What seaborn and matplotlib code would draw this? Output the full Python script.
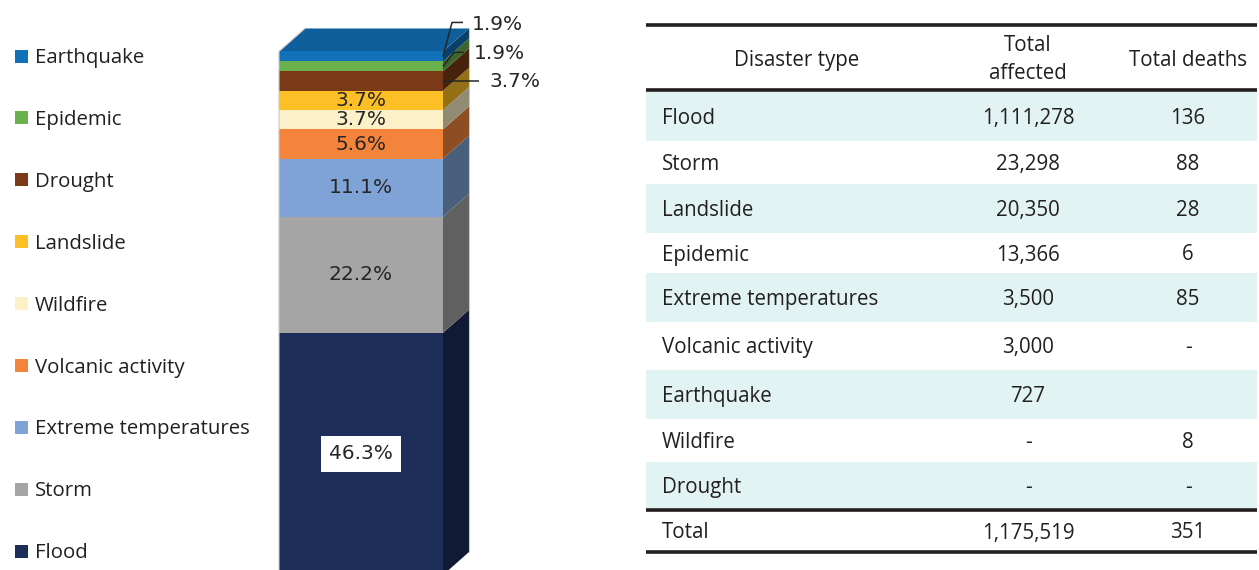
import numpy as np
import pandas as pd
import matplotlib
matplotlib.use("Agg")
import matplotlib.pyplot as plt
import matplotlib.colors as mcolors
from matplotlib.patches import Polygon, Rectangle
import seaborn as sns

sns.set_theme(style="white")
plt.rcParams["font.family"] = ["Open Sans", "DejaVu Sans"]

# Share of disaster events by type, stacked bottom to top
bar_types = ["Flood", "Storm", "Extreme temperatures", "Volcanic activity",
             "Wildfire", "Landslide", "Drought", "Epidemic", "Earthquake"]
bar_share = [46.3, 22.2, 11.1, 5.6, 3.7, 3.7, 3.7, 1.9, 1.9]
bar_colors = ["#1c2d5a", "#a5a5a5", "#7fa3d6", "#f4843c", "#fcf0c8",
              "#fdbf26", "#7b3a17", "#6ab04c", "#1070b8"]

# Impact table
table_headers = ["Disaster type", "Total\naffected", "Total deaths"]
table_types = ["Flood", "Storm", "Landslide", "Epidemic", "Extreme temperatures",
               "Volcanic activity", "Earthquake", "Wildfire", "Drought"]
total_affected = [1111278, 23298, 20350, 13366, 3500, 3000, 727, None, None]
total_deaths = [136, 88, 28, 6, 85, None, "", 8, None]   # None -> "-", "" -> blank

TEXT = "#231f20"
W, H = 1259, 570
fig = plt.figure(figsize=(W / 100, H / 100), dpi=100)

# full-figure canvas in pixel units (y downwards) for the legend and table
cv = fig.add_axes([0, 0, 1, 1])
cv.set_xlim(0, W)
cv.set_ylim(H, 0)
cv.axis("off")

# ---------------- 3D-looking stacked bar ----------------
ax = fig.add_axes([270 / W, (H - 575) / H, 230 / W, 575 / H])
ax.set_zorder(2)
ax.patch.set_alpha(0)

df = pd.DataFrame({"type": bar_types, "share": bar_share, "color": bar_colors})
df["top"] = df["share"].cumsum()
df["base"] = df["top"] - df["share"]

BAR_W = 0.8
for r in df.itertuples():
    sns.barplot(x=["all"], y=[r.share], bottom=r.base, color=r.color,
                saturation=1, width=BAR_W, linewidth=0, errorbar=None,
                ax=ax, zorder=3)

x_px = 1 / 205          # data units per pixel (x)
y_px = 100 / 523        # data units per pixel (y)
ax.set_xlim(-0.4 - 9 * x_px, -0.4 + 221 * x_px)
ax.set_ylim(0, 575 * y_px)
ax.axis("off")

dx, dy = 26 * x_px, 23 * y_px
xr = BAR_W / 2


def shade(c, f):
    r, g, b = mcolors.to_rgb(c)
    return (r * f, g * f, b * f)


for r in df.itertuples():
    ax.add_patch(Polygon([(xr, r.base), (xr + dx, r.base + dy),
                          (xr + dx, r.top + dy), (xr, r.top)],
                         closed=True, facecolor=shade(r.color, 0.58),
                         edgecolor="none", zorder=2))
T = df["top"].iloc[-1]
ax.add_patch(Polygon([(-xr, T), (-xr + dx, T + dy), (xr + dx, T + dy), (xr, T)],
                     closed=True, facecolor=shade(bar_colors[-1], 0.85),
                     edgecolor="none", zorder=2))
# faint outer edges of the prism
ax.plot([-xr, -xr, -xr + dx], [0, T, T + dy], color="#c9c9c9", lw=0.8, zorder=4)
ax.plot([xr + dx, xr + dx], [dy, T + dy], color="#c9c9c9", lw=0.8, zorder=4)

LBL = dict(fontsize=14.5, color="#262626", family="DejaVu Sans")

inside = ["Flood", "Storm", "Extreme temperatures", "Volcanic activity",
          "Wildfire", "Landslide"]
for r in df.itertuples():
    if r.type in inside:
        mid = (r.base + r.top) / 2
        kw = {}
        if r.type == "Flood":
            kw["bbox"] = dict(boxstyle="square,pad=0.42", fc="white", ec="none")
        ax.text(0, mid, f"{r.share:.1f}%", ha="center", va="center",
                zorder=5, **kw, **LBL)

# leader-line labels for the thin top segments (offsets in pixels)
leaders = {
    "Earthquake": ([(0, 0), (9, 34), (20, 34)], (29, 32)),
    "Epidemic": ([(0, 0), (11, 14), (21, 14)], (31, 13)),
    "Drought": ([(0, 0), (36, 0)], (46, 0)),
}
for r in df.itertuples():
    if r.type in leaders:
        path, (tx, ty) = leaders[r.type]
        yc = (r.base + r.top) / 2
        xs = [xr + px * x_px for px, _ in path]
        ys = [yc + py * y_px for _, py in path]
        ax.plot(xs, ys, color="#262626", lw=1.1, zorder=5, clip_on=False,
                solid_capstyle="butt")
        ax.text(xr + tx * x_px, yc + ty * y_px, f"{r.share:.1f}%", ha="left",
                va="center", clip_on=False, zorder=5, **LBL)

# ---------------- legend ----------------
for i, (name, col) in enumerate(zip(bar_types[::-1], bar_colors[::-1])):
    yc = 56 + 61.9 * i
    cv.add_patch(Rectangle((15.5, yc - 6.5), 13, 13, facecolor=col, edgecolor="none"))
    cv.text(35, yc + 7, name, ha="left", va="baseline", fontsize=14.7, color=TEXT)

# ---------------- table ----------------
TX0, TX1 = 646, 1257
COL1_X, COL2_X, COL3_X = 662, 1028, 1188
row_edges = [92, 141, 184, 233, 273, 322, 370, 419, 462, 508]
TFS = 14.8


def fmt(v):
    if v is None:
        return "-"
    if v == "":
        return ""
    return f"{v:,}"


for i, name in enumerate(table_types):
    y0, y1 = row_edges[i], row_edges[i + 1]
    if i % 2 == 0:
        cv.add_patch(Rectangle((TX0, y0), TX1 - TX0, y1 - y0,
                               facecolor="#e1f3f3", edgecolor="none"))
    base = (y0 + y1) / 2 + 7.5
    cv.text(COL1_X, base, name, ha="left", va="baseline", fontsize=TFS, color=TEXT)
    cv.text(COL2_X, base, fmt(total_affected[i]), ha="center", va="baseline",
            fontsize=TFS, color=TEXT)
    cv.text(COL3_X, base, fmt(total_deaths[i]), ha="center", va="baseline",
            fontsize=TFS, color=TEXT)

# header
cv.text(797, 66, table_headers[0], ha="center", va="baseline", fontsize=TFS, color=TEXT)
top_line, bottom_line = table_headers[1].split("\n")
cv.text(COL2_X, 51, top_line, ha="center", va="baseline", fontsize=TFS, color=TEXT)
cv.text(COL2_X, 79, bottom_line, ha="center", va="baseline", fontsize=TFS, color=TEXT)
cv.text(COL3_X, 66, table_headers[2], ha="center", va="baseline", fontsize=TFS, color=TEXT)

# totals row
sum_aff = sum(v for v in total_affected if isinstance(v, (int, float)))
sum_dea = sum(v for v in total_deaths if isinstance(v, (int, float)))
base = (512 + 550) / 2 + 7.5
cv.text(COL1_X, base, "Total", ha="left", va="baseline", fontsize=TFS, color=TEXT)
cv.text(COL2_X, base, f"{sum_aff:,}", ha="center", va="baseline", fontsize=TFS, color=TEXT)
cv.text(COL3_X, base, f"{sum_dea:,}", ha="center", va="baseline", fontsize=TFS, color=TEXT)

for yl in (25, 90, 510, 552):
    cv.plot([TX0, TX1], [yl, yl], color=TEXT, lw=2.6, solid_capstyle="butt")

fig.savefig("out.png", dpi=100)
